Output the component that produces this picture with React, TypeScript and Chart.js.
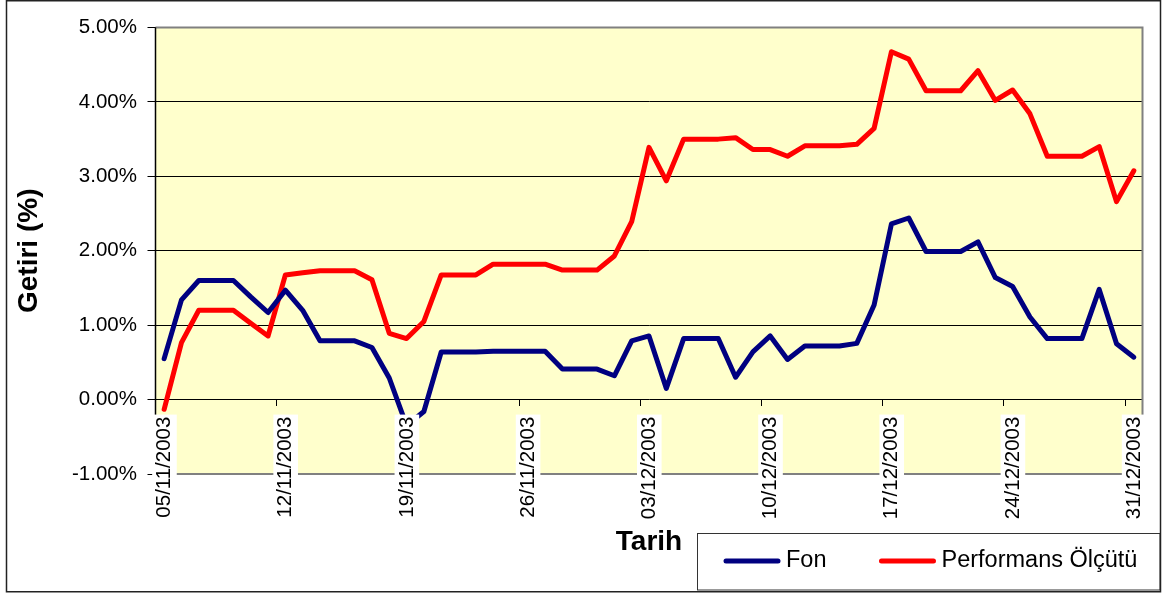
import React, { useEffect, useRef } from "react";
import { Chart, registerables } from "chart.js";

Chart.register(...registerables);

const DATES = [
  "05/11/2003", "06/11/2003", "07/11/2003", "08/11/2003", "09/11/2003", "10/11/2003", "11/11/2003",
  "12/11/2003", "13/11/2003", "14/11/2003", "15/11/2003", "16/11/2003", "17/11/2003", "18/11/2003",
  "19/11/2003", "20/11/2003", "21/11/2003", "22/11/2003", "23/11/2003", "24/11/2003", "25/11/2003",
  "26/11/2003", "27/11/2003", "28/11/2003", "29/11/2003", "30/11/2003", "01/12/2003", "02/12/2003",
  "03/12/2003", "04/12/2003", "05/12/2003", "06/12/2003", "07/12/2003", "08/12/2003", "09/12/2003",
  "10/12/2003", "11/12/2003", "12/12/2003", "13/12/2003", "14/12/2003", "15/12/2003", "16/12/2003",
  "17/12/2003", "18/12/2003", "19/12/2003", "20/12/2003", "21/12/2003", "22/12/2003", "23/12/2003",
  "24/12/2003", "25/12/2003", "26/12/2003", "27/12/2003", "28/12/2003", "29/12/2003", "30/12/2003",
  "31/12/2003",
];

const FON = [
  0.55, 1.34, 1.6, 1.6, 1.6, 1.38, 1.17, 1.47, 1.2, 0.79,
  0.79, 0.79, 0.7, 0.29, -0.35, -0.16, 0.64, 0.64, 0.64, 0.65,
  0.65, 0.65, 0.65, 0.41, 0.41, 0.41, 0.32, 0.79, 0.855, 0.15,
  0.82, 0.82, 0.82, 0.3, 0.64, 0.855, 0.54, 0.72, 0.72, 0.72,
  0.755, 1.27, 2.36, 2.44, 1.99, 1.99, 1.99, 2.12, 1.64, 1.52,
  1.11, 0.82, 0.82, 0.82, 1.48, 0.75, 0.57,
];

const PERFORMANS = [
  -0.13, 0.765, 1.2, 1.2, 1.2, 1.025, 0.855, 1.675, 1.705, 1.73,
  1.73, 1.73, 1.61, 0.89, 0.82, 1.05, 1.675, 1.675, 1.675, 1.82,
  1.82, 1.82, 1.82, 1.74, 1.74, 1.74, 1.93, 2.39, 3.39, 2.94,
  3.5, 3.5, 3.5, 3.52, 3.36, 3.36, 3.27, 3.41, 3.41, 3.41,
  3.43, 3.645, 4.675, 4.575, 4.15, 4.15, 4.15, 4.42, 4.02, 4.16,
  3.84, 3.27, 3.27, 3.27, 3.4, 2.66, 3.075,
];

const SERIES_NAMES = ["Fon", "Performans Ölçütü"];
const SERIES_COLORS = ["#000080", "#FF0000"];
const LABEL_EVERY = 7;
const Y_MIN = -1;
const Y_MAX = 5;
const Y_STEP = 1;

const FONT = "'Liberation Sans', Arial, sans-serif";

const bgPlugin = {
  id: "bgPlugin",
  beforeDraw(chart: any) {
    const { ctx, chartArea, width, height } = chart;
    ctx.save();
    ctx.fillStyle = "#ffffff";
    ctx.fillRect(0, 0, width, height);
    ctx.fillStyle = "#FFFFCC";
    ctx.fillRect(chartArea.left, chartArea.top, chartArea.right - chartArea.left, chartArea.bottom - chartArea.top);
    ctx.restore();
  },
  beforeDatasetsDraw(chart: any) {
    const { ctx, chartArea } = chart;
    ctx.save();
    ctx.strokeStyle = "#808080";
    ctx.lineWidth = 2;
    ctx.beginPath();
    ctx.moveTo(chartArea.left, chartArea.top);
    ctx.lineTo(chartArea.right, chartArea.top);
    ctx.lineTo(chartArea.right, chartArea.bottom);
    ctx.lineTo(chartArea.left, chartArea.bottom);
    ctx.stroke();
    ctx.strokeStyle = "#000";
    ctx.lineWidth = 1.5;
    ctx.beginPath();
    ctx.moveTo(chartArea.left, chartArea.top);
    ctx.lineTo(chartArea.left, chartArea.bottom);
    ctx.stroke();
    ctx.restore();
  },
  afterDraw(chart: any) {
    const { ctx } = chart;
    ctx.save();
    // legend box
    const box = { left: 697.5, top: 533.5, right: 1160, bottom: 590 };
    ctx.fillStyle = "#ffffff";
    ctx.fillRect(box.left, box.top, box.right - box.left, box.bottom - box.top);
    ctx.strokeStyle = "#333";
    ctx.lineWidth = 1;
    ctx.strokeRect(box.left, box.top, box.right - box.left, box.bottom - box.top);
    const cy = 561;
    let x = 724;
    ctx.font = `23.5px ${FONT}`;
    ctx.textBaseline = "middle";
    ctx.textAlign = "left";
    chart.data.datasets.forEach((ds: any) => {
      ctx.strokeStyle = ds.borderColor;
      ctx.lineWidth = 5;
      ctx.lineCap = "round";
      ctx.beginPath();
      ctx.moveTo(x + 2, cy);
      ctx.lineTo(x + 54, cy);
      ctx.stroke();
      ctx.fillStyle = "#000";
      ctx.fillText(ds.label, x + 62, cy);
      x += 62 + ctx.measureText(ds.label).width + 53;
    });
    // outer frame
    ctx.strokeStyle = "#222";
    ctx.lineWidth = 1.5;
    ctx.strokeRect(6.5, 0.75, 1154, 591);
    ctx.restore();
  },
};

export default function App() {
  const ref = useRef<HTMLCanvasElement | null>(null);
  useEffect(() => {
    if (!ref.current) return;
    const chart = new Chart(ref.current, {
      type: "line",
      data: {
        labels: DATES,
        datasets: [FON, PERFORMANS].map((d, i) => ({
          label: SERIES_NAMES[i],
          data: d,
          borderColor: SERIES_COLORS[i],
          backgroundColor: SERIES_COLORS[i],
          borderWidth: 5,
          pointRadius: 0,
          tension: 0,
          fill: false,
          borderJoinStyle: "round",
          borderCapStyle: "round",
        })),
      },
      options: {
        responsive: false,
        animation: false,
        devicePixelRatio: 1,
        layout: { padding: { left: 8, right: 19.5, top: 27.5, bottom: 120 } },
        plugins: {
          legend: { display: false },
          tooltip: { enabled: false },
        },
        scales: {
          x: {
            type: "category",
            position: { y: 0 },
            offset: true,
            z: 1,
            grid: {
              offset: true,
              drawOnChartArea: false,
              drawTicks: true,
              tickLength: 6,
              tickWidth: 1,
              tickColor: (c: any) => (c.index % LABEL_EVERY === 0 ? "#000" : "rgba(0,0,0,0)"),
            },
            border: { display: false },
            ticks: {
              z: 1,
              autoSkip: false,
              maxRotation: 90,
              minRotation: 90,
              padding: 11,
              labelOffset: -12,
              color: "#000",
              font: { family: FONT, size: 20.5 },
              callback: (_v: any, i: number) => (i % LABEL_EVERY === 0 ? DATES[i] : ""),
              showLabelBackdrop: (c: any) => c.index % LABEL_EVERY === 0,
              backdropColor: "#ffffff",
              backdropPadding: { x: 2, y: 0 },
            },
            title: {
              display: true,
              text: "Tarih",
              color: "#000",
              font: { family: FONT, size: 28, weight: "bold" },
              padding: { top: 0, bottom: -39.2 },
            },
            afterFit: (s: any) => {
              s.height = 120;
              s.paddingLeft = 0;
              s.paddingRight = 0;
              s.paddingTop = 0;
              s.paddingBottom = 0;
            },
          } as any,
          y: {
            min: Y_MIN,
            max: Y_MAX,
            ticks: {
              stepSize: Y_STEP,
              padding: 10.5,
              color: "#000",
              font: { family: FONT, size: 20.5 },
              callback: (v: any) => Number(v).toFixed(2) + "%",
            },
            grid: { color: "#000", lineWidth: 1, tickLength: 8, tickColor: "#000" },
            border: { display: true, color: "#000", width: 1 },
            title: {
              display: true,
              text: "Getiri (%)",
              color: "#000",
              font: { family: FONT, size: 28, weight: "bold" },
              padding: { top: 4.2, bottom: 0 },
            },
            afterFit: (s: any) => {
              s.width = 147.5;
            },
          },
        },
      },
      plugins: [bgPlugin],
    });
    return () => chart.destroy();
  }, []);
  return (
    <div style={{ position: "fixed", left: 0, top: 0, width: 1162, height: 594, background: "#fff" }}>
      <canvas ref={ref} width={1162} height={594} style={{ display: "block" }} />
    </div>
  );
}
